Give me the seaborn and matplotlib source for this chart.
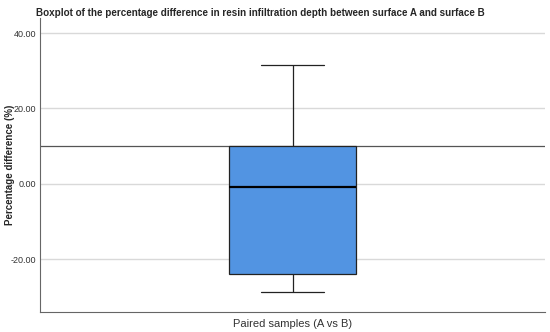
import numpy as np
import pandas as pd
import seaborn as sns
import matplotlib.pyplot as plt

# five summary values: min, Q1, median, Q3, max
pct_diff = [-28.7, -23.9, -0.9, 10.1, 31.5]
group = "Paired samples (A vs B)"
ref_line = 10.0
yticks = [-20, 0, 20, 40]

df = pd.DataFrame({"group": [group] * len(pct_diff), "diff": pct_diff})

sns.set_style("white")
plt.rcParams["font.family"] = ["Liberation Sans", "DejaVu Sans"]

fig = plt.figure(figsize=(5.5, 3.32), dpi=100)
ax = fig.add_axes([40 / 550, 20 / 332, 505 / 550, 294 / 332])

for t in yticks:
    ax.axhline(t, color="#d9d9d9", lw=1, zorder=0)
ax.axhline(ref_line, color="#555555", lw=0.9, zorder=1)

sns.boxplot(data=df, x="group", y="diff", ax=ax, width=0.25, whis=(0, 100),
            color="#5294e2", saturation=1, linecolor="#222222", linewidth=0.9,
            medianprops={"color": "black", "linewidth": 1.6},
            capprops={"linewidth": 0.9}, whiskerprops={"linewidth": 0.9})
# caps are half the box width
for line in ax.lines:
    xd = np.asarray(line.get_xdata(), dtype=float)
    yd = np.asarray(line.get_ydata(), dtype=float)
    if len(xd) == 2 and yd[0] == yd[1] and (np.isclose(yd[0], min(pct_diff)) or np.isclose(yd[0], max(pct_diff))):
        line.set_xdata([-0.0625, 0.0625])

ax.set_ylim(-34, 44)
ax.set_xlim(-0.5, 0.5)
ax.set_yticks(yticks)
ax.set_yticklabels([f"{t:.2f}" for t in yticks], fontsize=6.5, color="#333333")
ax.tick_params(axis="x", labelsize=8, colors="#333333", length=0, pad=5)
ax.tick_params(axis="y", length=0, pad=3)
ax.set_xlabel("")
ax.set_ylabel("Percentage difference (%)", fontsize=7, fontweight="bold")
ax.yaxis.set_label_coords(-25 / 505, 0.5)
for s in ["top", "right"]:
    ax.spines[s].set_visible(False)
for s in ["left", "bottom"]:
    ax.spines[s].set_color("#666666")
    ax.spines[s].set_linewidth(0.8)

fig.text(260 / 550, 0.975,
         "Boxplot of the percentage difference in resin infiltration depth between surface A and surface B",
         ha="center", va="top", fontsize=7.1, fontweight="bold")

fig.savefig("out.png", dpi=100)
